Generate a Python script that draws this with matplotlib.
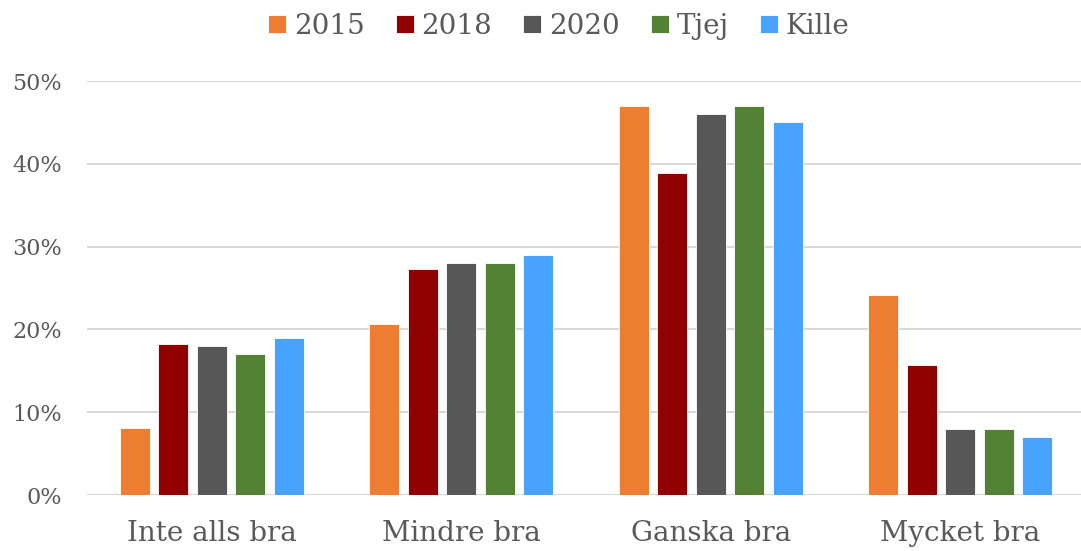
import numpy as np
import matplotlib.pyplot as plt
from matplotlib.ticker import PercentFormatter

categories = ["Inte alls bra", "Mindre bra", "Ganska bra", "Mycket bra"]
series = ["2015", "2018", "2020", "Tjej", "Kille"]
v2015 = [8.1, 20.7, 47.0, 24.1]
v2018 = [18.2, 27.3, 38.9, 15.7]
v2020 = [18.0, 28.0, 46.0, 8.0]
tjej = [17.0, 28.0, 47.0, 8.0]
kille = [19.0, 29.0, 45.0, 7.0]
colors = ["#ED7D31", "#900000", "#575757", "#548235", "#48A3FF"]

plt.rcParams['font.family'] = ['DejaVu Serif']
text_col = "#595959"

fig = plt.figure(figsize=(10.81, 5.51), dpi=100)
ax = fig.add_axes([87 / 1081, 1 - 495 / 551, 1 - 87 / 1081, (495 - 81) / 551])

x = np.arange(len(categories))
width = 0.12
pitch = 0.154
for i, (name, vals) in enumerate(zip(series, [v2015, v2018, v2020, tjej, kille])):
    ax.bar(x + (i - 2) * pitch, vals, width, color=colors[i], label=name,
           edgecolor="white", linewidth=0.6, zorder=3)

ax.set_ylim(0, 50)
ax.set_xlim(-0.5, 3.484)
ax.set_yticks(range(0, 51, 10))
ax.yaxis.set_major_formatter(PercentFormatter(decimals=0))
ax.grid(axis="y", color="#D9D9D9", linewidth=1.5, zorder=0)
for s in ax.spines.values():
    s.set_visible(False)
ax.tick_params(axis="both", length=0, labelcolor=text_col)
ax.tick_params(axis="y", labelsize=16, pad=18)
ax.tick_params(axis="x", labelsize=20, pad=18)
ax.set_xticks(x)
ax.set_xticklabels(categories)

leg = fig.legend(loc="center", bbox_to_anchor=(0.517, 0.952), ncol=5, frameon=False,
                 fontsize=20, handlelength=0.65, handleheight=0.65, handletextpad=0.28,
                 columnspacing=1.12, labelcolor=text_col, borderpad=0)

fig.savefig("out.png", dpi=100)
